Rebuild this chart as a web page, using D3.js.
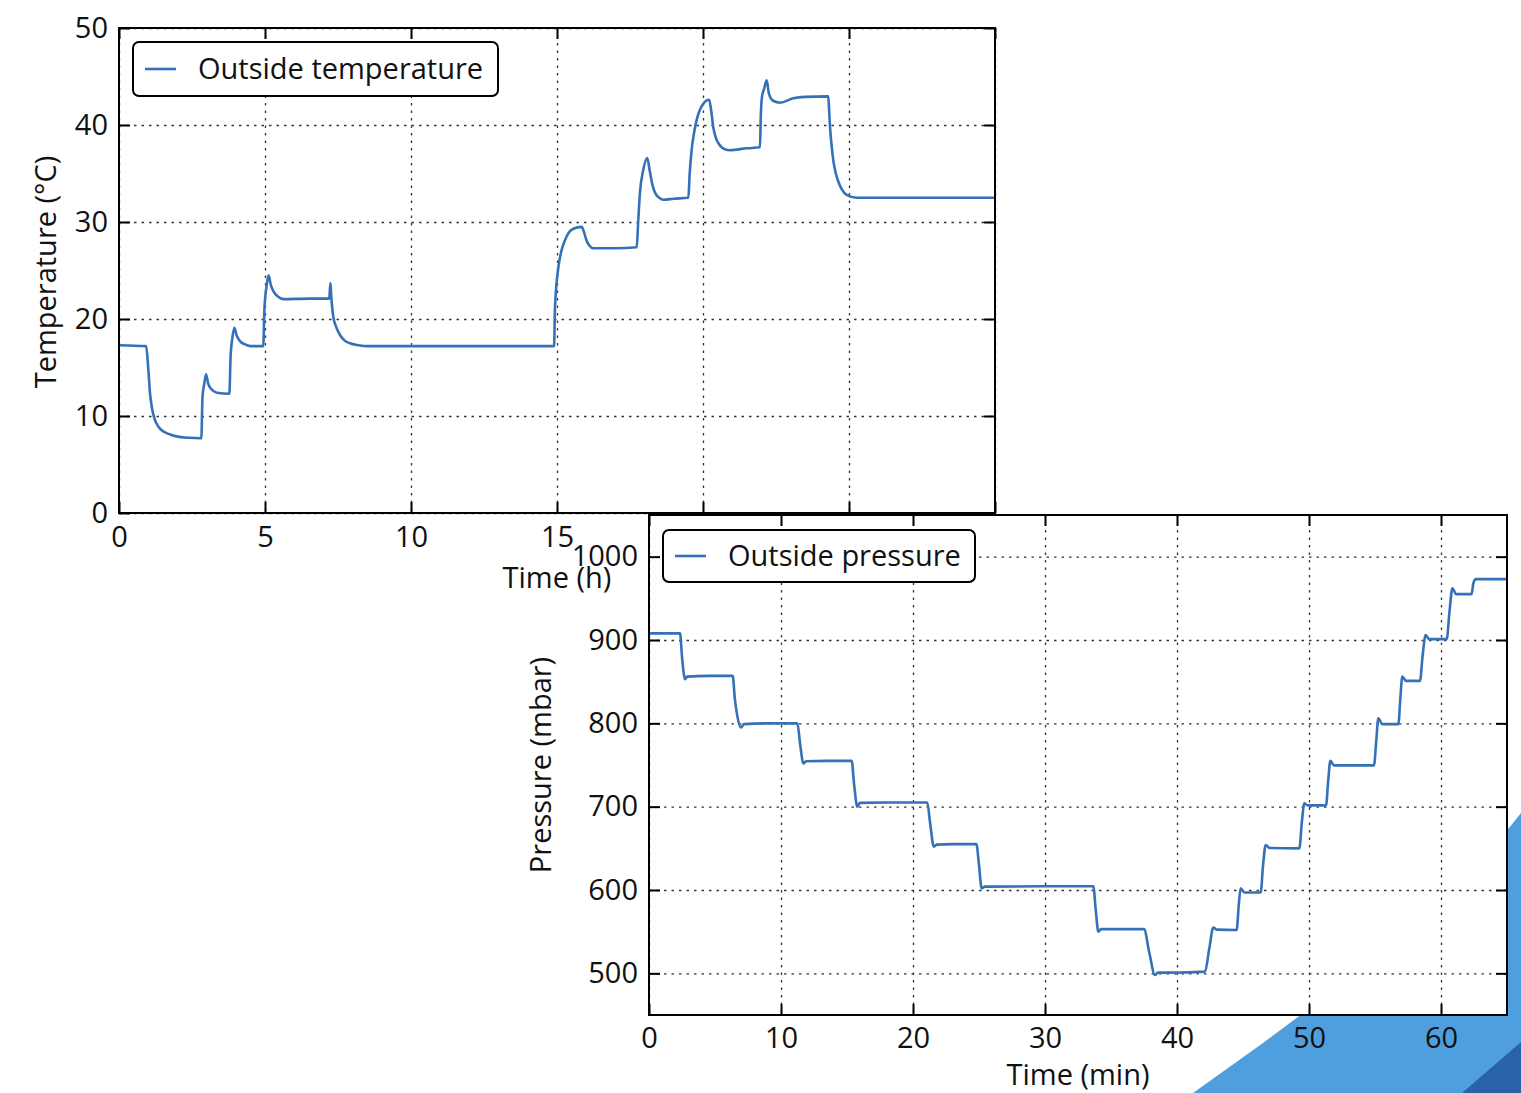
<!DOCTYPE html>
<html>
<head>
<meta charset="utf-8">
<script src="https://cdn.jsdelivr.net/npm/d3@7"></script>
<style>
  body { margin: 0; background: #fff; }
  svg { display: block; font-family: "Open Sans", sans-serif; }
</style>
</head>
<body>
<div id="chart"></div>
<script>
// Outside temperature (time in h, value in °C)
const tempTime = [0, 0.93, 1.0, 1.06, 1.13, 1.23, 1.35, 1.52, 1.75, 1.97, 2.4, 2.82,
  2.86, 2.92, 2.98, 3.05, 3.15, 3.35, 3.78,
  3.82, 3.88, 3.95, 4.03, 4.15, 4.3, 4.49, 4.94,
  4.98, 5.05, 5.12, 5.2, 5.3, 5.45, 5.63, 6.5, 7.2,
  7.24, 7.27, 7.34, 7.45, 7.57, 7.72, 7.91, 8.2, 8.48, 12, 14.9,
  14.93, 15.05, 15.15, 15.27, 15.4, 15.56, 15.84, 15.92, 16.01, 16.1, 16.24, 17.0, 17.73,
  17.78, 17.84, 17.95, 18.09, 18.18, 18.27, 18.36, 18.5, 18.64, 19.0, 19.5,
  19.54, 19.61, 19.7, 19.78, 19.9, 20.01, 20.21, 20.28, 20.35, 20.45, 20.58, 20.75, 20.92, 21.5, 21.95,
  21.98, 22.02, 22.1, 22.18, 22.26, 22.4, 22.64, 23.09, 23.5, 24.29,
  24.32, 24.35, 24.4, 24.46, 24.55, 24.63, 24.75, 24.92, 25.26, 27, 30];
const tempValue = [17.3, 17.2, 15.0, 12.4, 10.8, 9.6, 8.9, 8.4, 8.1, 7.9, 7.75, 7.7,
  12.0, 13.3, 14.3, 13.4, 12.8, 12.4, 12.3,
  16.0, 18.0, 19.1, 18.3, 17.7, 17.4, 17.2, 17.2,
  21.0, 23.3, 24.5, 23.5, 22.8, 22.3, 22.05, 22.1, 22.1,
  23.7, 22.3, 20.2, 19.1, 18.35, 17.8, 17.5, 17.3, 17.2, 17.2, 17.2,
  21.1, 25.4, 27.0, 28.1, 28.9, 29.3, 29.5, 29.0, 28.1, 27.6, 27.3, 27.3, 27.4,
  30.0, 33.0, 35.3, 36.6, 35.2, 33.8, 33.0, 32.5, 32.3, 32.4, 32.5,
  34.8, 37.4, 39.3, 40.5, 41.6, 42.2, 42.6, 41.5, 39.8, 38.6, 37.9, 37.5, 37.4, 37.6, 37.7,
  41.0, 42.9, 43.8, 44.6, 43.2, 42.5, 42.3, 42.75, 42.9, 42.95,
  41.5, 39.8, 38.0, 36.4, 35.0, 34.2, 33.4, 32.8, 32.5, 32.5, 32.5];

// Outside pressure (time in min, value in mbar)
const pressTime = [0, 2.35, 2.5, 2.65, 2.73, 2.9, 4.5, 6.34,
  6.5, 6.7, 6.97, 7.2, 9.0, 11.24,
  11.45, 11.7, 11.9, 13.5, 15.35,
  15.55, 15.78, 15.98, 18, 21.08,
  21.3, 21.58, 21.8, 23, 24.8,
  25.0, 25.2, 25.45, 30, 33.66,
  33.85, 34.04, 34.25, 36, 37.5,
  37.9, 38.33, 38.55, 40, 42.12,
  42.45, 42.75, 43.0, 44.52,
  44.67, 44.82, 45.1, 46.34,
  46.52, 46.72, 47.0, 49.27,
  49.45, 49.65, 49.9, 51.29,
  51.45, 51.62, 51.9, 54.92,
  55.1, 55.25, 55.55, 56.77,
  56.92, 57.07, 57.35, 58.41,
  58.6, 58.84, 59.1, 60.43,
  60.65, 60.86, 61.15, 62.32,
  62.45, 62.65, 65];
const pressValue = [908, 908, 880, 858, 853, 856, 857, 857,
  830, 808, 795, 799, 800, 800,
  775, 752, 754.5, 755, 755,
  725, 700, 704.5, 705, 705,
  680, 652, 654.5, 655, 655,
  630, 602, 604, 604.5, 604.5,
  575, 550, 553, 553, 553,
  525, 498, 500.8, 501, 502,
  530, 555, 552.5, 552,
  580, 602, 597, 597,
  630, 654, 650.5, 650,
  680, 704, 701.5, 701.5,
  730, 755, 749.5, 749.5,
  780, 806, 799, 799,
  830, 856, 851, 851,
  880, 906, 901, 901,
  935, 962, 955, 955,
  968, 973, 973];

const tempTicksX = [0, 5, 10, 15, 20, 25, 30];
const tempTicksY = [0, 10, 20, 30, 40, 50];
// labels 20, 25 and 30 of the upper panel sit under the lower panel
const tempHiddenX = [20, 25, 30];
const pressTicksX = [0, 10, 20, 30, 40, 50, 60];
const pressTicksY = [500, 600, 700, 800, 900, 1000];

const W = 1521, H = 1093;
const lineColor = "#3571b8";
const fontSize = 29;

const svg = d3.select("#chart").append("svg")
  .attr("width", W)
  .attr("height", H);

const defs = svg.append("defs");

function panel(opts) {
  const { left, right, top, bottom, xDomain, yDomain, xTicks, yTicks, hiddenX, times, values,
          curve, legend, legendBox, xLabel, yLabel, xLabelPos, yLabelPos, xPad, id } = opts;
  const width = right - left, height = bottom - top;
  const x = d3.scaleLinear().domain(xDomain).range([0, width]);
  const y = d3.scaleLinear().domain(yDomain).range([height, 0]);

  const g = svg.append("g").attr("transform", `translate(${left},${top})`);

  g.append("rect").attr("width", width).attr("height", height).attr("fill", "#fff");

  defs.append("clipPath").attr("id", id)
    .append("rect").attr("width", width).attr("height", height);

  // grid
  const gridStyle = sel => {
    sel.select(".domain").remove();
    sel.selectAll("line").attr("stroke", "#333").attr("stroke-width", 1.3)
      .attr("stroke-dasharray", "2.5,5");
  };
  g.append("g")
    .call(d3.axisLeft(y).tickValues(yTicks).tickSize(-width).tickFormat(""))
    .call(gridStyle);
  g.append("g")
    .call(d3.axisBottom(x).tickValues(xTicks).tickSize(height).tickFormat(""))
    .call(gridStyle);

  // series
  const data = times.map((t, i) => [t, values[i]]);
  g.append("path")
    .datum(data)
    .attr("clip-path", `url(#${id})`)
    .attr("fill", "none")
    .attr("stroke", lineColor)
    .attr("stroke-width", 2.6)
    .attr("stroke-linejoin", "round")
    .attr("d", d3.line().x(d => x(d[0])).y(d => y(d[1])).curve(curve));

  // axes with inward ticks on all sides
  const axisStyle = sel => {
    sel.select(".domain").remove();
    sel.selectAll("line").attr("stroke", "#000").attr("stroke-width", 2);
    sel.selectAll("text").attr("fill", "#111").style("font-size", fontSize + "px")
      .style("font-family", "'Open Sans', sans-serif");
  };
  const hide = hiddenX || [];
  g.append("g").attr("transform", `translate(0,${height})`)
    .call(d3.axisBottom(x).tickValues(xTicks).tickSize(-11).tickPadding(xPad)
      .tickFormat(d => hide.includes(d) ? "" : d3.format("d")(d)))
    .call(axisStyle);
  g.append("g")
    .call(d3.axisTop(x).tickValues(xTicks).tickSize(-11).tickFormat(""))
    .call(axisStyle);
  g.append("g")
    .call(d3.axisLeft(y).tickValues(yTicks).tickSize(-11).tickPadding(11).tickFormat(d3.format("d")))
    .call(axisStyle);
  g.append("g").attr("transform", `translate(${width},0)`)
    .call(d3.axisRight(y).tickValues(yTicks).tickSize(-11).tickFormat(""))
    .call(axisStyle);

  g.append("rect").attr("width", width).attr("height", height)
    .attr("fill", "none").attr("stroke", "#000").attr("stroke-width", 2);

  // legend
  const lg = g.append("g").attr("transform", `translate(${legendBox.x},${legendBox.y})`);
  lg.append("rect").attr("width", legendBox.w).attr("height", legendBox.h)
    .attr("rx", 6).attr("fill", "#fff").attr("stroke", "#000").attr("stroke-width", 2);
  lg.append("line").attr("x1", 12).attr("x2", 43)
    .attr("y1", legendBox.h / 2).attr("y2", legendBox.h / 2)
    .attr("stroke", lineColor).attr("stroke-width", 2.6);
  lg.append("text").attr("x", 65).attr("y", legendBox.h / 2).attr("dy", "0.36em")
    .style("font-size", fontSize + "px").attr("fill", "#111").text(legend);

  // axis labels (positioned relative to page)
  svg.append("text").attr("x", xLabelPos[0]).attr("y", xLabelPos[1])
    .attr("text-anchor", "middle").style("font-size", fontSize + "px").attr("fill", "#111")
    .text(xLabel);
  svg.append("text")
    .attr("transform", `translate(${yLabelPos[0]},${yLabelPos[1]}) rotate(-90)`)
    .attr("text-anchor", "middle").style("font-size", fontSize + "px").attr("fill", "#111")
    .text(yLabel);
}

panel({
  id: "clipTemp", left: 119, right: 995, top: 28, bottom: 513,
  xDomain: [0, 30], yDomain: [0, 50], xTicks: tempTicksX, yTicks: tempTicksY, hiddenX: tempHiddenX,
  times: tempTime, values: tempValue, curve: d3.curveMonotoneX, xPad: 13,
  legend: "Outside temperature", legendBox: { x: 14, y: 14, w: 365, h: 54 },
  xLabel: "Time (h)", xLabelPos: [557, 588],
  yLabel: "Temperature (°C)", yLabelPos: [56, 272]
});

// decorative corner shapes behind the lower panel
svg.append("path")
  .attr("d", "M1193,1093 L1263,1043 L1310,1008 L1509,828 L1521,813 L1521,1093 Z")
  .attr("fill", "#4f9fdf");
svg.append("path")
  .attr("d", "M1462,1093 L1521,1042 L1521,1093 Z")
  .attr("fill", "#2a62a8");

panel({
  id: "clipPress", left: 649, right: 1507, top: 515, bottom: 1015,
  xDomain: [0, 65], yDomain: [450, 1050], xTicks: pressTicksX, yTicks: pressTicksY,
  times: pressTime, values: pressValue, curve: d3.curveMonotoneX, xPad: 12,
  legend: "Outside pressure", legendBox: { x: 14, y: 15, w: 312, h: 52 },
  xLabel: "Time (min)", xLabelPos: [1078, 1085],
  yLabel: "Pressure (mbar)", yLabelPos: [551, 765]
});
</script>
</body>
</html>
